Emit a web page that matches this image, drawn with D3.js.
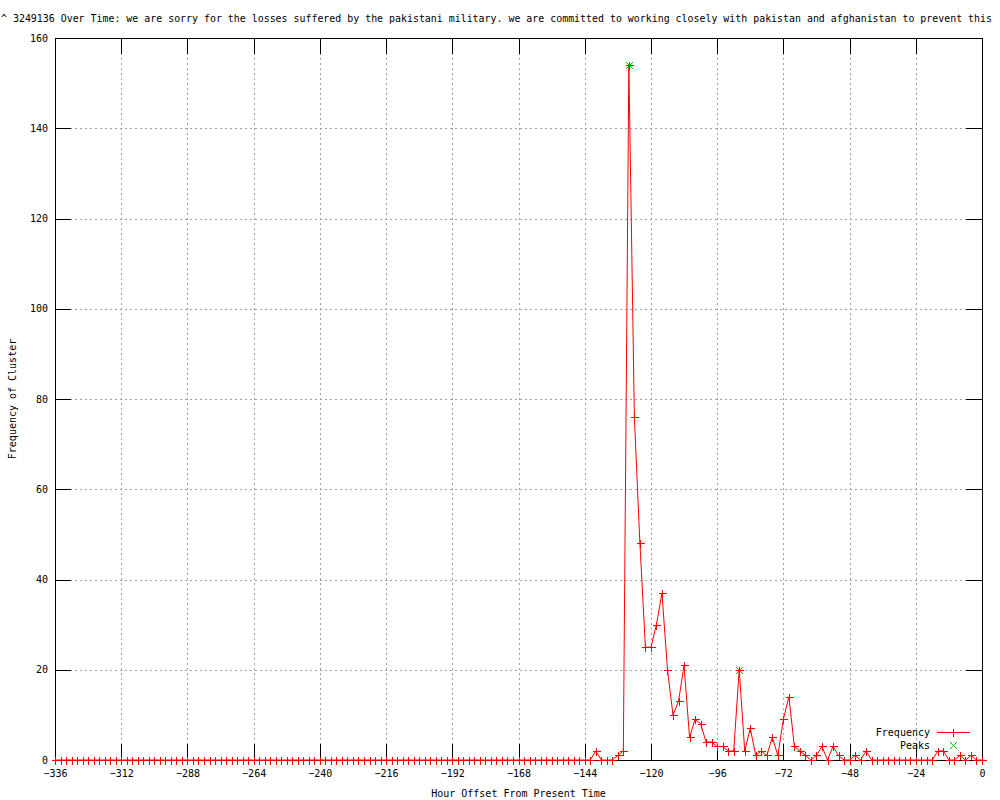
<!DOCTYPE html>
<html>
<head>
<meta charset="utf-8">
<script src="https://cdn.jsdelivr.net/npm/d3@7"></script>
<style>
  body { margin: 0; background: #fff; }
  svg { display: block; }
</style>
</head>
<body>
<svg id="chart" width="1000" height="800"></svg>
<script>
let width = 1000, height = 800;
let margin = { top: 38, right: 18, bottom: 40, left: 55 };

// Data: cluster frequency every 2 hours, -336 .. 0
let hours = d3.range(-336, 1, 2);
let frequency = [
  0, 0, 0, 0, 0, 0, 0, 0, 0, 0, 0, 0, 0, 0,
  0, 0, 0, 0, 0, 0, 0, 0, 0, 0, 0, 0, 0, 0,
  0, 0, 0, 0, 0, 0, 0, 0, 0, 0, 0, 0, 0, 0,
  0, 0, 0, 0, 0, 0, 0, 0, 0, 0, 0, 0, 0, 0,
  0, 0, 0, 0, 0, 0, 0, 0, 0, 0, 0, 0, 0, 0,
  0, 0, 0, 0, 0, 0, 0, 0, 0, 0, 0, 0, 0, 0,
  0, 0, 0, 0, 0, 0, 0, 0, 0, 0, 0, 0, 0, 0,
  // -140 .. -40
  2, 0, 0, 0, 1, 2, 154, 76, 48, 25, 25, 30, 37, 20, 10, 13, 21,
  5, 9, 8, 4, 4, 3, 3, 2, 2, 20, 2, 7, 1, 2, 1, 5, 1, 9, 14,
  3, 2, 1, 0, 1, 3, 0, 3, 1, 0, 0, 1, 0, 2, 0,
  // -38 .. 0
  0, 0, 0, 0, 0, 0, 0, 0, 0, 0, 0,
  2, 2, 0, 0, 1, 0, 1, 0, 0
];
let peakHours = [-128, -88];
let peakValues = [154, 20];

let xTicks = d3.range(-336, 1, 24);
let yTicks = [0, 20, 40, 60, 80, 100, 120, 140, 160];

let title = "^ 3249136 Over Time: we are sorry for the losses suffered by the pakistani military. we are committed to working closely with pakistan and afghanistan to prevent this";
let font = "'DejaVu Sans Mono', 'Liberation Mono', monospace";

let svg = d3.select("#chart");

// Scales
let xScale = d3.scaleLinear()
  .domain([-336, 0])
  .range([margin.left, width - margin.right]);

let yScale = d3.scaleLinear()
  .domain([0, 160])
  .range([height - margin.bottom, margin.top]);

let x0 = xScale.range()[0], x1 = xScale.range()[1];
let y0 = yScale.range()[0], y1 = yScale.range()[1];

// Grid
let grid = svg.append("g")
  .attr("stroke", "#a0a0a0")
  .attr("stroke-dasharray", "2,3")
  .attr("shape-rendering", "crispEdges");

grid.selectAll("line.gx")
  .data(xTicks.slice(1, -1))
  .join("line")
  .attr("x1", d => Math.round(xScale(d)) + 0.5)
  .attr("x2", d => Math.round(xScale(d)) + 0.5)
  .attr("y1", y1)
  .attr("y2", y0);

grid.selectAll("line.gy")
  .data(yTicks.slice(1, -1))
  .join("line")
  .attr("x1", x0)
  .attr("x2", x1)
  .attr("y1", d => Math.round(yScale(d)) + 0.5)
  .attr("y2", d => Math.round(yScale(d)) + 0.5);

// Axes (ticks point inward)
let tickLen = 16;

let xAxis = d3.axisBottom(xScale).tickValues(xTicks)
  .tickSize(-tickLen).tickSizeOuter(0).tickPadding(10);
let xAxisTop = d3.axisTop(xScale).tickValues(xTicks)
  .tickSize(-tickLen).tickSizeOuter(0).tickFormat("");
let yAxis = d3.axisLeft(yScale).tickValues(yTicks)
  .tickSize(-tickLen).tickSizeOuter(0).tickPadding(7).tickFormat(d3.format("d"));
let yAxisRight = d3.axisRight(yScale).tickValues(yTicks)
  .tickSize(-tickLen).tickSizeOuter(0).tickFormat("");

function styleAxis(g) {
  g.attr("font-size", 10)
    .attr("font-family", font)
    .attr("shape-rendering", "crispEdges");
  g.select("path.domain").remove();
  g.selectAll(".tick line").attr("stroke", "#000");
  g.selectAll(".tick text").attr("fill", "#000");
}

svg.append("g")
  .attr("transform", `translate(0,${y0})`)
  .call(xAxis)
  .call(styleAxis);

svg.append("g")
  .attr("transform", `translate(0,${y1})`)
  .call(xAxisTop)
  .call(styleAxis);

svg.append("g")
  .attr("transform", `translate(${x0},0)`)
  .call(yAxis)
  .call(styleAxis);

svg.append("g")
  .attr("transform", `translate(${x1},0)`)
  .call(yAxisRight)
  .call(styleAxis);

// Border
svg.append("rect")
  .attr("x", x0 + 0.5)
  .attr("y", y1 + 0.5)
  .attr("width", x1 - x0)
  .attr("height", y0 - y1)
  .attr("fill", "none")
  .attr("stroke", "#000")
  .attr("shape-rendering", "crispEdges");

// Series line
let points = hours.map((h, i) => [h, frequency[i]]);

let line = d3.line()
  .x(d => xScale(d[0]))
  .y(d => yScale(d[1]));

svg.append("path")
  .datum(points)
  .attr("d", line)
  .attr("fill", "none")
  .attr("stroke", "#ff0000")
  .attr("stroke-width", 1);

// Plus markers
let plusPath = (cx, cy, r) =>
  `M${cx - r},${cy}H${cx + r}M${cx},${cy - r}V${cy + r}`;
let crossPath = (cx, cy, r) =>
  `M${cx - r},${cy - r}L${cx + r},${cy + r}M${cx - r},${cy + r}L${cx + r},${cy - r}`;

svg.append("g")
  .attr("stroke", "#ff0000")
  .attr("fill", "none")
  .attr("shape-rendering", "crispEdges")
  .selectAll("path")
  .data(points)
  .join("path")
  .attr("d", d => plusPath(Math.round(xScale(d[0])) + 0.5, Math.round(yScale(d[1])) + 0.5, 4));

// Peaks
svg.append("g")
  .attr("stroke", "#00c000")
  .attr("fill", "none")
  .selectAll("path")
  .data(peakHours.map((h, i) => [h, peakValues[i]]))
  .join("path")
  .attr("d", d => crossPath(Math.round(xScale(d[0])) + 0.5, Math.round(yScale(d[1])) + 0.5, 3.5));

// Legend
let legend = svg.append("g")
  .attr("font-family", font)
  .attr("font-size", 10)
  .attr("fill", "#000");

legend.append("text")
  .attr("x", 930)
  .attr("y", 736)
  .attr("text-anchor", "end")
  .text("Frequency");

legend.append("line")
  .attr("x1", 937).attr("x2", 970)
  .attr("y1", 732.5).attr("y2", 732.5)
  .attr("stroke", "#ff0000")
  .attr("shape-rendering", "crispEdges");

legend.append("path")
  .attr("d", plusPath(953.5, 732.5, 4))
  .attr("stroke", "#ff0000")
  .attr("shape-rendering", "crispEdges");

legend.append("text")
  .attr("x", 930)
  .attr("y", 749)
  .attr("text-anchor", "end")
  .text("Peaks");

legend.append("path")
  .attr("d", crossPath(953.5, 745.5, 3.5))
  .attr("stroke", "#00c000")
  .attr("fill", "none");

// Title and axis labels
svg.append("text")
  .attr("x", 1)
  .attr("y", 22)
  .attr("text-anchor", "start")
  .attr("textLength", 991)
  .attr("lengthAdjust", "spacingAndGlyphs")
  .style("font-family", font)
  .style("font-size", "10px")
  .text(title);

svg.append("text")
  .attr("x", (x0 + x1) / 2)
  .attr("y", 797)
  .attr("text-anchor", "middle")
  .style("font-family", font)
  .style("font-size", "10px")
  .text("Hour Offset From Present Time");

svg.append("text")
  .attr("transform", "rotate(-90)")
  .attr("x", -(y0 + y1) / 2)
  .attr("y", 16)
  .attr("text-anchor", "middle")
  .style("font-family", font)
  .style("font-size", "10px")
  .text("Frequency of Cluster");
</script>
</body>
</html>
